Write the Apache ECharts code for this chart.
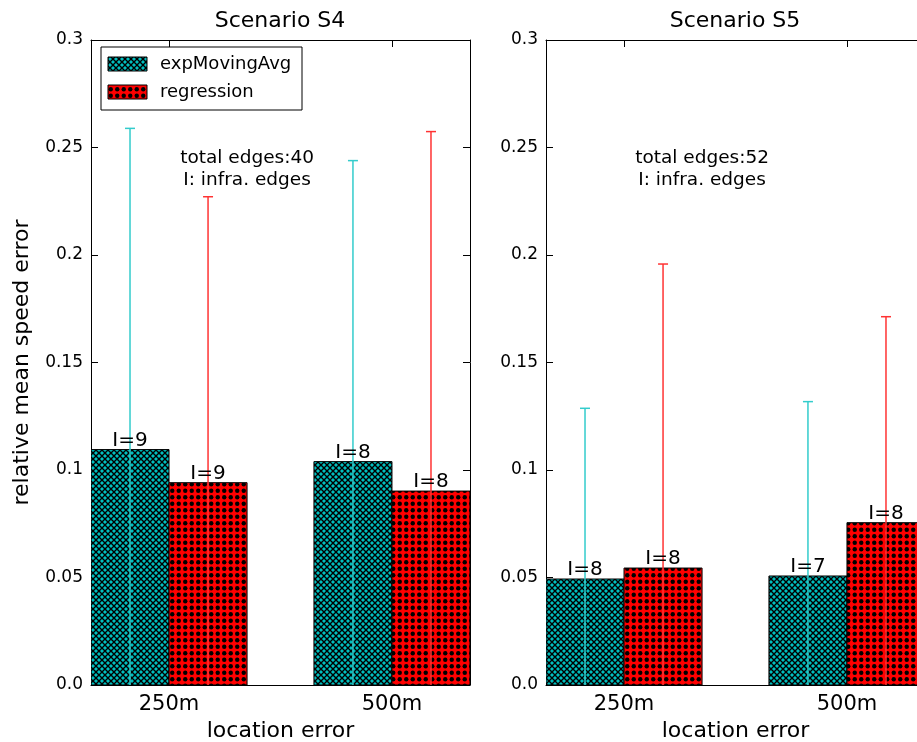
<!DOCTYPE html>
<html>
<head>
<meta charset="utf-8">
<script src="https://cdn.jsdelivr.net/npm/echarts@6/dist/echarts.min.js"></script>
<style>
  html, body { margin: 0; padding: 0; background: #fff; }
  #chart { width: 917px; height: 742px; }
</style>
</head>
<body>
<div id="chart"></div>
<script>
// ---- data ----
const categories = ['250m', '500m'];
const titles = ['Scenario S4', 'Scenario S5'];
const notes = ['total edges:40\nI: infra. edges', 'total edges:52\nI: infra. edges'];
const seriesNames = ['expMovingAvg', 'regression'];

// Scenario S4
const s4ExpMean = [0.1095, 0.1039];
const s4ExpErr = [0.1494, 0.1400];
const s4ExpInfra = [9, 8];
const s4RegMean = [0.0941, 0.0902];
const s4RegErr = [0.1330, 0.1672];
const s4RegInfra = [9, 8];

// Scenario S5
const s5ExpMean = [0.0493, 0.0507];
const s5ExpErr = [0.0794, 0.0811];
const s5ExpInfra = [8, 7];
const s5RegMean = [0.0544, 0.0755];
const s5RegErr = [0.1414, 0.0958];
const s5RegInfra = [8, 8];

// ---- styling ----
const FONT = 'DejaVu Sans';
const BAR_W = 0.35;
const X_MIN = -0.35, X_MAX = 1.35;
const NOTE_POS = [0.35, 0.24];

// hatch fills
function makeCrossHatch() {
  const c = document.createElement('canvas');
  c.width = 6; c.height = 6;
  const g = c.getContext('2d');
  g.fillStyle = '#00BFBF';
  g.fillRect(0, 0, 6, 6);
  g.strokeStyle = '#000';
  g.lineWidth = 1.4;
  g.beginPath();
  g.moveTo(-1, -1); g.lineTo(7, 7);
  g.moveTo(7, -1); g.lineTo(-1, 7);
  g.stroke();
  return c;
}
function makeDots() {
  const c = document.createElement('canvas');
  c.width = 13; c.height = 13;
  const g = c.getContext('2d');
  g.fillStyle = '#FF0000';
  g.fillRect(0, 0, 13, 13);
  g.fillStyle = '#000';
  [[3.25, 3.25], [9.75, 3.25], [3.25, 9.75], [9.75, 9.75]].forEach(function (p) {
    g.beginPath();
    g.arc(p[0], p[1], 2.2, 0, Math.PI * 2);
    g.fill();
  });
  return c;
}
const fills = [
  { image: makeCrossHatch(), repeat: 'repeat' },
  { image: makeDots(), repeat: 'repeat' }
];
const errColors = ['#33CCCC', '#FF3333'];

function barSeries(gridIdx, kind, means, errs, infra) {
  const offset = kind === 0 ? -BAR_W / 2 : BAR_W / 2;
  return {
    type: 'custom',
    name: seriesNames[kind],
    xAxisIndex: gridIdx * 2,
    yAxisIndex: gridIdx * 2,
    clip: true,
    data: means.map(function (m, i) { return [i + offset, m, errs[i], infra[i]]; }),
    renderItem: function (params, api) {
      const xc = api.value(0), v = api.value(1), e = api.value(2), n = api.value(3);
      const tl = api.coord([xc - BAR_W / 2, v]);
      const br = api.coord([xc + BAR_W / 2, 0]);
      const top = api.coord([xc, v + e]);
      const bot = api.coord([xc, v - e]);
      const cx = (tl[0] + br[0]) / 2;
      return {
        type: 'group',
        children: [
          {
            type: 'rect',
            shape: { x: tl[0], y: tl[1], width: br[0] - tl[0], height: br[1] - tl[1] },
            style: { fill: fills[kind], stroke: '#000', lineWidth: 1 }
          },
          {
            type: 'line',
            shape: { x1: cx, y1: top[1], x2: cx, y2: bot[1] },
            style: { stroke: errColors[kind], lineWidth: 1.5 }
          },
          {
            type: 'line',
            shape: { x1: cx - 5, y1: top[1], x2: cx + 5, y2: top[1] },
            style: { stroke: errColors[kind], lineWidth: 1.5 }
          },
          {
            type: 'line',
            shape: { x1: cx - 5, y1: bot[1], x2: cx + 5, y2: bot[1] },
            style: { stroke: errColors[kind], lineWidth: 1.5 }
          },
          {
            type: 'text',
            z2: 10,
            style: {
              x: cx, y: tl[1] + 1, text: 'I=' + n,
              align: 'center', verticalAlign: 'bottom',
              font: '20px "' + FONT + '"', fill: '#000'
            }
          }
        ]
      };
    }
  };
}

function noteSeries(gridIdx) {
  return {
    type: 'custom',
    xAxisIndex: gridIdx * 2,
    yAxisIndex: gridIdx * 2,
    data: [[NOTE_POS[0], NOTE_POS[1]]],
    renderItem: function (params, api) {
      const p = api.coord([api.value(0), api.value(1)]);
      return {
        type: 'text',
        style: {
          x: p[0], y: p[1], text: notes[gridIdx],
          align: 'center', verticalAlign: 'middle',
          font: '18.5px "' + FONT + '"', lineHeight: 22, fill: '#000'
        }
      };
    }
  };
}

const grids = [
  { left: 91, top: 40, width: 379, height: 645, outerBoundsMode: 'none', containLabel: false },
  { left: 546, top: 40, width: 379, height: 645, outerBoundsMode: 'none', containLabel: false }
];

const xAxes = [];
const yAxes = [];
[0, 1].forEach(function (g) {
  ['bottom', 'top'].forEach(function (pos) {
    xAxes.push({
      type: 'value', gridIndex: g, position: pos,
      min: X_MIN, max: X_MAX,
      axisLine: { show: true, onZero: false, lineStyle: { color: '#000', width: 1 } },
      axisTick: { show: true, inside: true, length: 7, customValues: [0, 1], lineStyle: { color: '#000' } },
      axisLabel: {
        show: pos === 'bottom', customValues: [0, 1],
        formatter: function (v) { return categories[Math.round(v)]; },
        fontFamily: FONT, fontSize: 21, color: '#000', margin: 9
      },
      splitLine: { show: false },
      name: pos === 'bottom' ? 'location error' : '',
      nameLocation: 'middle', nameGap: 34,
      nameTextStyle: { fontFamily: FONT, fontSize: 22, color: '#000' }
    });
  });
  ['left', 'right'].forEach(function (pos) {
    yAxes.push({
      type: 'value', gridIndex: g, position: pos,
      min: 0, max: 0.3, interval: 0.05,
      axisLine: { show: true, onZero: false, lineStyle: { color: '#000', width: 1 } },
      axisTick: { show: true, inside: true, length: 7, lineStyle: { color: '#000' } },
      axisLabel: {
        show: pos === 'left',
        formatter: function (v) { return v === 0 ? '0.0' : String(+v.toFixed(2)); },
        fontFamily: FONT, fontSize: 17, color: '#000', margin: 8
      },
      splitLine: { show: false },
      name: (g === 0 && pos === 'left') ? 'relative mean speed error' : '',
      nameLocation: 'middle', nameGap: 58, nameRotate: 90,
      nameTextStyle: { fontFamily: FONT, fontSize: 22, color: '#000' }
    });
  });
});

const series = [
  barSeries(0, 0, s4ExpMean, s4ExpErr, s4ExpInfra),
  barSeries(0, 1, s4RegMean, s4RegErr, s4RegInfra),
  barSeries(1, 0, s5ExpMean, s5ExpErr, s5ExpInfra),
  barSeries(1, 1, s5RegMean, s5RegErr, s5RegInfra),
  noteSeries(0),
  noteSeries(1)
];

const graphic = [
  // subplot titles
  {
    type: 'text', x: 280, y: 21,
    style: { text: titles[0], align: 'center', verticalAlign: 'middle', font: '22px "' + FONT + '"', fill: '#000' }
  },
  {
    type: 'text', x: 735, y: 21,
    style: { text: titles[1], align: 'center', verticalAlign: 'middle', font: '22px "' + FONT + '"', fill: '#000' }
  },
  // legend box
  {
    type: 'group', x: 101, y: 47, z: 100,
    children: [
      { type: 'rect', shape: { x: 0, y: 0, width: 201, height: 63 }, style: { fill: '#fff', stroke: '#000', lineWidth: 1 } },
      { type: 'rect', shape: { x: 7, y: 10, width: 39, height: 14 }, style: { fill: fills[0], stroke: '#000', lineWidth: 1 } },
      { type: 'rect', shape: { x: 7, y: 38, width: 39, height: 14 }, style: { fill: fills[1], stroke: '#000', lineWidth: 1 } },
      { type: 'text', style: { x: 59, y: 17, text: seriesNames[0], verticalAlign: 'middle', font: '18px "' + FONT + '"', fill: '#000' } },
      { type: 'text', style: { x: 59, y: 45, text: seriesNames[1], verticalAlign: 'middle', font: '18px "' + FONT + '"', fill: '#000' } }
    ]
  }
];

const chart = echarts.init(document.getElementById('chart'), null, { renderer: 'canvas' });
chart.setOption({
  animation: false,
  backgroundColor: '#fff',
  grid: grids,
  xAxis: xAxes,
  yAxis: yAxes,
  series: series,
  graphic: graphic
});
</script>
</body>
</html>
